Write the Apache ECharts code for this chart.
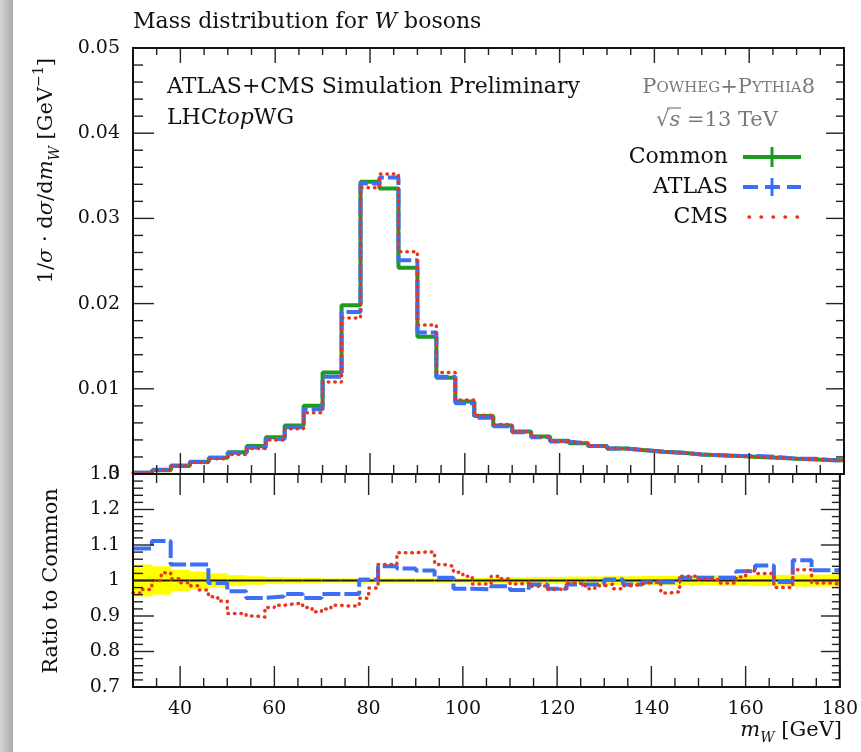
<!DOCTYPE html>
<html><head><meta charset="utf-8">
<script src="https://cdn.jsdelivr.net/npm/echarts@6/dist/echarts.min.js"></script>
<style>html,body{margin:0;padding:0;background:#fff;}#c{width:861px;height:752px;}</style>
</head><body><div id="c"></div>
<script>
// ---------- data ----------
const binLo = [30,34,38,42,46,50,54,58,62,66,70,74,78,82,86,90,94,98,102,106,110,114,118,122,126,130,134,138,142,146,150,154,158,162,166,170,174,178];
const xEnd = 180;
const commonMain = [0.00015,0.00045,0.00095,0.0014,0.0019,0.00255,0.0033,0.0043,0.0057,0.0080,0.0119,0.0198,0.0343,0.0335,0.0242,0.0161,0.0113,0.0085,0.0068,0.0057,0.0050,0.0044,0.0039,0.0036,0.0033,0.0030,0.0028,0.0026,0.0025,0.0023,0.0022,0.0021,0.0020,0.0019,0.0018,0.0017,0.0016,0.0016];
const atlasMain = [0.00016,0.0005,0.001,0.00145,0.0019,0.0025,0.0031,0.0041,0.0055,0.0076,0.0114,0.0190,0.0341,0.0348,0.0251,0.0166,0.0114,0.0083,0.0066,0.0056,0.0049,0.0043,0.0038,0.0036,0.0033,0.0030,0.0028,0.0026,0.0025,0.0023,0.0022,0.0021,0.0021,0.0020,0.0018,0.0018,0.0016,0.0016];
const cmsMain = [0.00015,0.00045,0.00095,0.00135,0.0018,0.0023,0.0030,0.0040,0.0053,0.0072,0.0108,0.0183,0.0336,0.0352,0.0261,0.0175,0.0119,0.0087,0.0069,0.0058,0.0050,0.0044,0.0038,0.0036,0.0033,0.0030,0.0028,0.0026,0.0025,0.0023,0.0022,0.0021,0.0020,0.0019,0.0018,0.0017,0.0016,0.0016];
const bandHalf = [0.045,0.04,0.03,0.025,0.02,0.015,0.012,0.01,0.008,0.007,0.006,0.006,0.006,0.006,0.006,0.006,0.006,0.006,0.007,0.008,0.009,0.01,0.01,0.011,0.011,0.012,0.012,0.013,0.013,0.014,0.014,0.015,0.015,0.016,0.016,0.017,0.017,0.017];
const atlasRatio = [1.09,1.111,1.045,1.045,0.993,0.970,0.951,0.955,0.962,0.951,0.962,0.962,1.003,1.040,1.034,1.028,1.008,0.977,0.975,0.984,0.973,0.989,0.977,0.989,0.989,1.003,0.989,0.995,0.995,1.008,1.008,1.008,1.026,1.042,0.996,1.057,1.029,1.029];
const cmsRatioLo = [30,32,34,36,38,40,42,44,46,48,50,52,54,56,58,60,62,64,66,68,70,72,74,76,78,80,82,84,86,88,90,92,94,96,98,100,102,104,106,108,110,112,114,116,118,120,122,124,126,128,130,132,134,136,138,140,142,144,146,148,150,152,154,156,158,160,162,164,166,168,170,172,174,176,178];
const cmsRatio = [0.965,0.975,1.000,1.022,1.005,0.994,0.985,0.973,0.954,0.942,0.907,0.907,0.900,0.897,0.924,0.930,0.934,0.936,0.924,0.912,0.920,0.930,0.928,0.928,0.950,0.979,1.045,1.045,1.078,1.078,1.080,1.080,1.045,1.040,1.023,1.012,0.990,0.990,1.012,1.005,0.990,0.993,0.984,0.985,0.975,0.976,0.993,0.990,0.977,0.985,0.990,0.977,0.985,0.990,0.995,0.995,0.965,0.968,1.012,1.012,1.005,1.005,0.993,0.993,1.010,1.027,1.020,1.020,0.980,0.980,1.030,1.030,0.993,0.993,0.990];
// tick positions
const xMajorTicks = [40,60,80,100,120,140,160,180];
const xMinorTicks = [35,45,50,55,65,70,75,85,90,95,105,110,115,125,130,135,145,150,155,165,170,175];
const yMainMajor = [0.01,0.02,0.03,0.04];
const yMainMinor = [0.002,0.004,0.006,0.008,0.012,0.014,0.016,0.018,0.022,0.024,0.026,0.028,0.032,0.034,0.036,0.038,0.042,0.044,0.046,0.048];
const yRatioMajor = [0.8,0.9,1.0,1.1,1.2];
const yRatioMinor = [0.72,0.74,0.76,0.78,0.82,0.84,0.86,0.88,0.92,0.94,0.96,0.98,1.02,1.04,1.06,1.08,1.12,1.14,1.16,1.18,1.22,1.24,1.26,1.28];

// ---------- helpers ----------
const FONT = 'DejaVu Serif';
const GREEN = '#1e9b1e', BLUE = '#3c6ff5', RED = '#e8351e';
function steps(lo, vals){ const d = lo.map((x,i)=>[x, vals[i]]); d.push([xEnd, vals[vals.length-1]]); return d; }
function xAxisDef(grid, pos, labels){
  const a = {gridIndex:grid, type:'value', min:30, max:180, position:pos,
    axisLine:{show:false}, splitLine:{show:false}, axisTick:{show:false}, axisLabel:{show:false}};
  if (labels){ a.axisLabel = {show:true, customValues:xMajorTicks, fontFamily:FONT, fontSize:19, color:'#111', margin:13}; }
  return a;
}
function yAxisDef(grid, pos, min, max, itv, labels){
  return {gridIndex:grid, type:'value', min:min, max:max, interval:itv, position:pos,
    axisLine:{show:false}, splitLine:{show:false}, axisTick:{show:false}, minorTick:{show:false},
    axisLabel: labels ? {show:true, fontFamily:FONT, fontSize:19, color:'#111', margin:13,
      formatter: v => String(Math.round(v*1000)/1000)} : {show:false}};
}
// tick rows: [side, xValue, yValue, length]; side 0=bottom,1=top,2=left,3=right
function tickRows(vals, side, len, yBase){
  return vals.map(v => side < 2 ? [side, v, yBase, len] : [side, 30, v, len]);
}
function tickSeries(xi, yi, rows){
  return {type:'custom', xAxisIndex:xi, yAxisIndex:yi, silent:true, z:6, data:rows, encode:{x:1, y:2},
    renderItem:function(params, api){
      const cs = params.coordSys, k = api.value(0), len = api.value(3);
      const p = api.coord([api.value(1), api.value(2)]);
      let x1, y1, x2, y2;
      if (k === 0){ x1 = x2 = p[0]; y1 = cs.y + cs.height; y2 = y1 - len; }
      else if (k === 1){ x1 = x2 = p[0]; y1 = cs.y; y2 = y1 + len; }
      else if (k === 2){ y1 = y2 = p[1]; x1 = cs.x; x2 = x1 + len; }
      else { y1 = y2 = p[1]; x1 = cs.x + cs.width; x2 = x1 - len; }
      return {type:'line', shape:{x1:x1, y1:y1, x2:x2, y2:y2}, style:{stroke:'#222', lineWidth:1.4}};
    }};
}
function txt(x, y, text, size, align, extra){
  return {type:'text', x:x, y:y, z:100, style:Object.assign({text:text, fontFamily:FONT, fontSize:size,
    fill:'#111', align:align, textAlign:align, verticalAlign:'middle', textVerticalAlign:'middle'}, extra||{})};
}

const bandData = binLo.map((x,i)=>[x, i<binLo.length-1 ? binLo[i+1] : xEnd, 1-bandHalf[i], 1+bandHalf[i]]);
const mainTicks = [].concat(
  tickRows(xMajorTicks,0,21,0), tickRows(xMinorTicks,0,9,0), tickRows(xMajorTicks,1,15,0), tickRows(xMinorTicks,1,7,0),
  tickRows(yMainMajor,2,21), tickRows(yMainMinor,2,10), tickRows(yMainMajor,3,18), tickRows(yMainMinor,3,8));
const ratioTicks = [].concat(
  tickRows(xMajorTicks,0,21,0.7), tickRows(xMinorTicks,0,9,0.7), tickRows(xMajorTicks,1,21,0.7), tickRows(xMinorTicks,1,9,0.7),
  tickRows(yRatioMajor,2,21), tickRows(yRatioMinor,2,10), tickRows(yRatioMajor,3,19), tickRows(yRatioMinor,3,8));

const chart = echarts.init(document.getElementById('c'));
const option = {
  animation:false,
  backgroundColor:'#fff',
  grid:[
    {left:133, top:48, width:711, height:426, show:true, borderColor:'#111', borderWidth:2, backgroundColor:'transparent', z:10},
    {left:133, top:474, width:711, height:213, show:true, borderColor:'#111', borderWidth:2, backgroundColor:'transparent', z:10}
  ],
  xAxis:[ xAxisDef(0,'bottom',false), xAxisDef(1,'bottom',true) ],
  yAxis:[ yAxisDef(0,'left',0,0.05,0.01,true), yAxisDef(1,'left',0.7,1.3,0.1,true) ],
  series:[
    {type:'line', xAxisIndex:0, yAxisIndex:0, step:'end', symbol:'none', data:steps(binLo, commonMain),
      lineStyle:{color:GREEN, width:4}, z:2},
    {type:'line', xAxisIndex:0, yAxisIndex:0, step:'end', symbol:'none', data:steps(binLo, atlasMain),
      lineStyle:{color:BLUE, width:4, type:[18,4]}, z:3},
    {type:'line', xAxisIndex:0, yAxisIndex:0, step:'end', symbol:'none', data:steps(binLo, cmsMain),
      lineStyle:{color:RED, width:3.5, type:[0.5,6], cap:'round'}, z:4},
    {type:'custom', xAxisIndex:1, yAxisIndex:1, data:bandData, encode:{x:[0,1], y:[2,3]}, z:1,
      renderItem:function(params, api){
        const p0 = api.coord([api.value(0), api.value(3)]), p1 = api.coord([api.value(1), api.value(2)]);
        const c0 = api.coord([api.value(0), 1]), c1 = api.coord([api.value(1), 1]);
        return {type:'group', children:[
          {type:'rect', shape:{x:p0[0], y:p0[1], width:p1[0]-p0[0]+0.5, height:p1[1]-p0[1]}, style:{fill:'#ffff00'}},
          {type:'line', shape:{x1:c0[0], y1:c0[1], x2:c1[0], y2:c1[1]}, style:{stroke:'#1a1a1a', lineWidth:2}}]};
      }},
    {type:'line', xAxisIndex:1, yAxisIndex:1, step:'end', symbol:'none', data:steps(binLo, atlasRatio),
      lineStyle:{color:BLUE, width:4, type:[18,4]}, z:3},
    {type:'line', xAxisIndex:1, yAxisIndex:1, step:'end', symbol:'none', data:steps(cmsRatioLo, cmsRatio),
      lineStyle:{color:RED, width:3.5, type:[0.5,6], cap:'round'}, z:4},
    tickSeries(0, 0, mainTicks),
    tickSeries(1, 1, ratioTicks)
  ],
  graphic:[
    {type:'rect', shape:{x:0, y:0, width:13, height:752}, z:0,
      style:{fill:new echarts.graphic.LinearGradient(0,0,1,0,[{offset:0,color:'#d6d6d6'},{offset:1,color:'#aaaaaa'}])}},
    txt(133, 22, 'Mass distribution for {i|W} bosons', 22, 'left', {rich:{i:{fontStyle:'italic', fontFamily:FONT, fontSize:22, fill:'#111'}}}),
    txt(167, 87, 'ATLAS+CMS Simulation Preliminary', 22, 'left'),
    txt(167, 118, 'LHC{i|top}WG', 22, 'left', {rich:{i:{fontStyle:'italic', fontFamily:FONT, fontSize:22, fill:'#111'}}}),
    txt(815, 88, '{b|P}{s|OWHEG}{b|+P}{s|YTHIA}{b|8}', 21, 'right', {fill:'#7a7a7a',
      rich:{b:{fontFamily:FONT, fontSize:21, fill:'#7a7a7a'}, s:{fontFamily:FONT, fontSize:15, fill:'#7a7a7a'}}}),
    txt(717, 121, '√{i|s} =13 TeV', 21, 'center', {fill:'#7a7a7a',
      rich:{i:{fontStyle:'italic', fontFamily:FONT, fontSize:21, fill:'#7a7a7a'}}}),
    {type:'line', z:100, shape:{x1:667, y1:108, x2:681, y2:108}, style:{stroke:'#7a7a7a', lineWidth:1.2}},
    txt(728, 157, 'Common', 22, 'right'),
    {type:'line', z:100, shape:{x1:743, y1:157, x2:801, y2:157}, style:{stroke:GREEN, lineWidth:4}},
    {type:'line', z:100, shape:{x1:772, y1:147, x2:772, y2:167}, style:{stroke:GREEN, lineWidth:3}},
    txt(728, 187, 'ATLAS', 22, 'right'),
    {type:'line', z:100, shape:{x1:743, y1:187, x2:801, y2:187}, style:{stroke:BLUE, lineWidth:4, lineDash:[15,7]}},
    {type:'line', z:100, shape:{x1:772, y1:178, x2:772, y2:196}, style:{stroke:BLUE, lineWidth:3}},
    txt(728, 217, 'CMS', 22, 'right'),
    {type:'line', z:100, shape:{x1:749, y1:217, x2:800, y2:217}, style:{stroke:RED, lineWidth:3.5, lineDash:[0.5,11.5], lineCap:'round'}},
    {type:'text', x:47, y:58, rotation:Math.PI/2, z:100, style:{
      text:'{n|1/}{i|σ}{n| · d}{i|σ}{n|/d}{i|m}{sub|W}{n| [GeV}{sup|−1}{n|]}',
      align:'right', textAlign:'right', verticalAlign:'middle', textVerticalAlign:'middle', fontFamily:FONT, fontSize:21, fill:'#111',
      rich:{
        n:{fontFamily:FONT, fontSize:21, fill:'#111', lineHeight:30},
        i:{fontFamily:FONT, fontSize:21, fontStyle:'italic', fill:'#111', lineHeight:30},
        sub:{fontFamily:FONT, fontSize:14, fontStyle:'italic', fill:'#111', lineHeight:14, verticalAlign:'bottom'},
        sup:{fontFamily:FONT, fontSize:14, fill:'#111', lineHeight:14, verticalAlign:'top'}
      }}},
    {type:'text', x:52, y:581, rotation:Math.PI/2, z:100, style:{text:'Ratio to Common',
      align:'center', textAlign:'center', verticalAlign:'middle', textVerticalAlign:'middle', fontFamily:FONT, fontSize:21, fill:'#111'}},
    {type:'text', x:842, y:731, z:100, style:{
      text:'{i|m}{sub|W}{n| [GeV]}',
      align:'right', textAlign:'right', verticalAlign:'middle', textVerticalAlign:'middle', fontFamily:FONT, fontSize:21, fill:'#111',
      rich:{
        n:{fontFamily:FONT, fontSize:21, fill:'#111', lineHeight:28},
        i:{fontFamily:FONT, fontSize:21, fontStyle:'italic', fill:'#111', lineHeight:28},
        sub:{fontFamily:FONT, fontSize:14, fontStyle:'italic', fill:'#111', lineHeight:14, verticalAlign:'bottom'}
      }}}
  ]
};
chart.setOption(option);
</script>
</body></html>
